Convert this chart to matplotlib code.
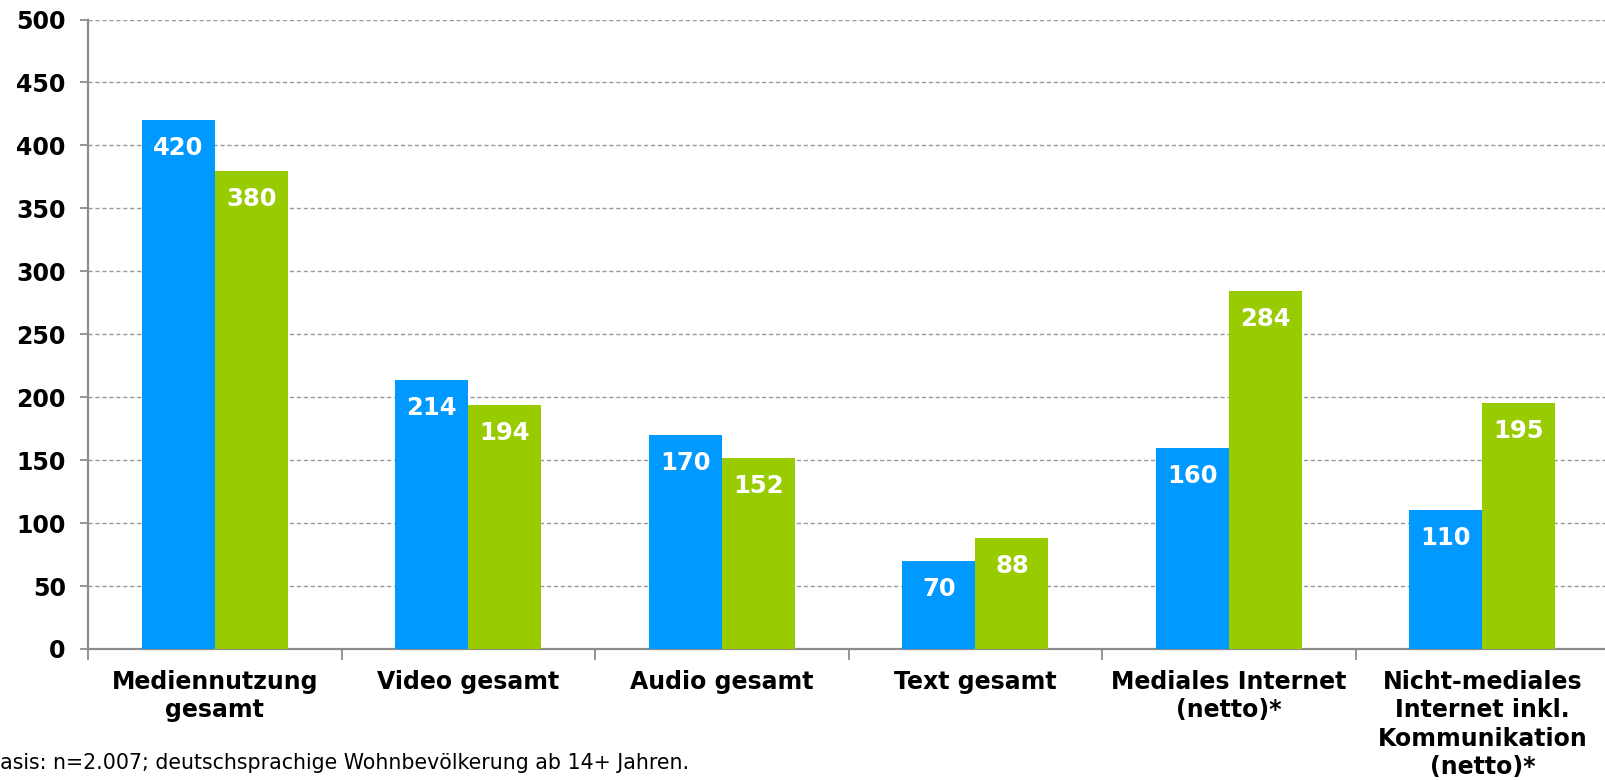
import matplotlib.pyplot as plt
import numpy as np

# Categories and the two series (minutes per day)
categories = ['Mediennutzung\ngesamt', 'Video gesamt', 'Audio gesamt', 'Text gesamt',
              'Mediales Internet\n(netto)*',
              'Nicht-mediales\nInternet inkl.\nKommunikation\n(netto)*']
blue_vals = [420, 214, 170, 70, 160, 110]
green_vals = [380, 194, 152, 88, 284, 195]
y_ticks = [0, 50, 100, 150, 200, 250, 300, 350, 400, 450, 500]
footnote = 'Basis: n=2.007; deutschsprachige Wohnbevölkerung ab 14+ Jahren.'

plt.rcParams['font.family'] = 'DejaVu Sans'

fig = plt.figure(figsize=(16.06, 7.80), dpi=100)
ax = fig.add_axes([0.0548, 0.168, 0.9472, 0.807])

blue = '#0099FF'
green = '#99CC00'
grey = '#8C8C8C'
w = 0.288

x = np.arange(len(categories)) + 0.5
b1 = ax.bar(x - w / 2, blue_vals, w, color=blue, zorder=3)
b2 = ax.bar(x + w / 2, green_vals, w, color=green, zorder=3)

for bars, vals in ((b1, blue_vals), (b2, green_vals)):
    for rect, v in zip(bars, vals):
        ax.annotate(str(v), (rect.get_x() + rect.get_width() / 2, v),
                    xytext=(0, -28), textcoords='offset pixels',
                    ha='center', va='center', color='white',
                    fontsize=17.5, fontweight='bold', zorder=4)

ax.set_ylim(0, 500)
ax.set_xlim(0, len(categories))
ax.set_yticks(y_ticks)
ax.set_yticklabels([str(t) for t in y_ticks], fontsize=17, fontweight='bold')
ax.yaxis.grid(True, color='#999999', linestyle=(0, (3, 2)), linewidth=1.0, zorder=0)
ax.set_axisbelow(True)

# category labels at bar centers, tick marks on the boundaries
ax.set_xticks(x)
ax.set_xticklabels(categories, fontsize=17, fontweight='bold', linespacing=1.24)
ax.set_xticks(np.arange(len(categories) + 1), minor=True)
ax.tick_params(axis='x', which='major', length=0, pad=15)
ax.tick_params(axis='x', which='minor', length=8, color=grey, width=1.3, direction='out')
ax.tick_params(axis='y', length=6, color=grey, width=1.3, pad=10)

for side in ('top', 'right'):
    ax.spines[side].set_visible(False)
for side in ('left', 'bottom'):
    ax.spines[side].set_color(grey)
    ax.spines[side].set_linewidth(1.6)

fig.text(-0.0085, 0.022, footnote, fontsize=14.8, ha='left', va='center', color='black')

fig.savefig('out.png', dpi=100)
